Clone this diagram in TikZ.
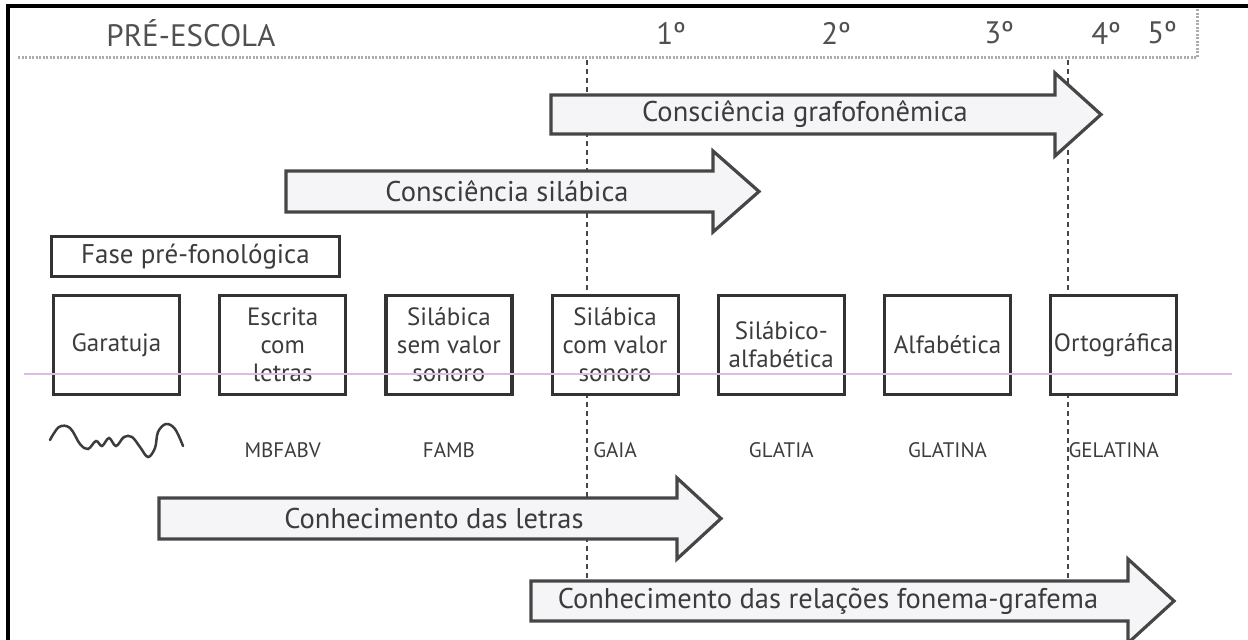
\documentclass[tikz,border=0pt]{standalone}
\usepackage{fontspec}
\setmainfont{PT Sans}
\usetikzlibrary{positioning}

\definecolor{tinta}{HTML}{3C3C3C}
\definecolor{contorno}{HTML}{333333}
\definecolor{faixacinza}{HTML}{F5F5F7}
\definecolor{rosa}{HTML}{DDBBE6}

\begin{document}
\begin{tikzpicture}[
    x=1pt, y=-1pt,
    node distance=37pt and 37pt,
    etapa/.style={draw=contorno, line width=3.2pt, fill=white, text=tinta, align=center,
        minimum width=126pt, minimum height=99pt, inner sep=1pt,
        font=\fontsize{25}{28}\selectfont},
    faixa/.style={draw=gray!55!black, line width=3.2pt, fill=faixacinza},
    rotulo/.style={text=tinta, font=\fontsize{28.5}{32}\selectfont},
    palavra/.style={text=tinta, font=\fontsize{21}{25}\selectfont},
    serie/.style={text=tinta!90, font=\fontsize{31}{34}\selectfont},
    guia/.style={draw=gray!55!black, line width=2.6pt, dash pattern=on 4.5pt off 4.5pt},
    pontilhado/.style={draw=gray!65, line width=3pt, dash pattern=on 2pt off 1.5pt}
]
\useasboundingbox (0,0) rectangle (1248,640);

% Moldura e linha do tempo
\draw[line width=3.5pt] (8,640) -- (8,6) -- (1248,6);
\draw[pontilhado] (18,57) -- (1197,57) -- (1197,8);
\node[serie] (preescola) at (191,33) {PRÉ-ESCOLA};
\node[serie] (ano1) at (671,33) {1º};
\node[serie] (ano2) at (836,33) {2º};
\node[serie] (ano3) at (999,33) {3º};
\node[serie] (ano4) at (1106,33) {4º};
\node[serie] (ano5) at (1162,33) {5º};

% Guias verticais
\coordinate (guiaA) at (587,60);
\coordinate (guiaB) at (1068,60);
\draw[guia] (guiaA) -- (guiaA |- 0,580);
\draw[guia] (guiaB) -- (guiaB |- 0,580);

% Setas
\draw[faixa] (551,95) -- (1055,95) -- (1055,73) -- (1101,114.5) -- (1055,156) -- (1055,134) -- (551,134) -- cycle;
\node[rotulo] (grafofonemica) at (805,114.5) {Consciência grafofonêmica};

\draw[faixa] (286,171) -- (713,171) -- (713,151) -- (759,191.5) -- (713,232) -- (713,212) -- (286,212) -- cycle;
\node[rotulo] (silabica) at (507,191.5) {Consciência silábica};

\draw[faixa] (159,498) -- (677,498) -- (677,478) -- (721,518.5) -- (677,559) -- (677,539) -- (159,539) -- cycle;
\node[rotulo] (letras) at (434,518.5) {Conhecimento das letras};

\draw[faixa] (531,581) -- (1128,581) -- (1128,559) -- (1174,601) -- (1128,643) -- (1128,621) -- (531,621) -- cycle;
\node[rotulo] (relacoes) at (828,601) {Conhecimento das relações fonema-grafema};

% Fases
\node[etapa, minimum width=288pt, minimum height=40pt, font=\fontsize{27}{30}\selectfont] (fase) at (195.5,256.5) {Fase pré-fonológica};

\node[etapa] (garatuja) at (116.5,345) {Garatuja};
\node[etapa] (escrita) [right=of garatuja] {Escrita\\com\\letras};
\node[etapa] (semvalor) [right=of escrita] {Silábica\\sem valor\\sonoro};
\node[etapa] (comvalor) [right=of semvalor] {Silábica\\com valor\\sonoro};
\node[etapa] (silabico) [right=of comvalor] {Silábico-\\alfabética};
\node[etapa] (alfabetica) [right=of silabico] {Alfabética};
\node[etapa] (ortografica) [right=of alfabetica] {Ortográfica};

% Exemplos de escrita
\draw[tinta, line width=2.5pt, line cap=round] plot[smooth, tension=0.6] coordinates {
    (50,440) (59,427) (70,428) (80,444) (88,449) (96,441) (102,446) (109,438)
    (116,446) (124,437) (132,437) (140,447) (148,457) (155,448) (158,432)
    (166,424) (175,429) (183,446)};
\node[palavra] (mbfabv) at (escrita.south |- 0,450) {MBFABV};
\node[palavra] (famb) at (semvalor.south |- 0,450) {FAMB};
\node[palavra] (gaia) at (comvalor.south |- 0,450) {GAIA};
\node[palavra] (glatia) at (silabico.south |- 0,450) {GLATIA};
\node[palavra] (glatina) at (alfabetica.south |- 0,450) {GLATINA};
\node[palavra] (gelatina) at (ortografica.south |- 0,450) {GELATINA};

\draw[rosa, line width=1.5pt] (24,374) -- (1232,374);

\end{tikzpicture}
\end{document}
